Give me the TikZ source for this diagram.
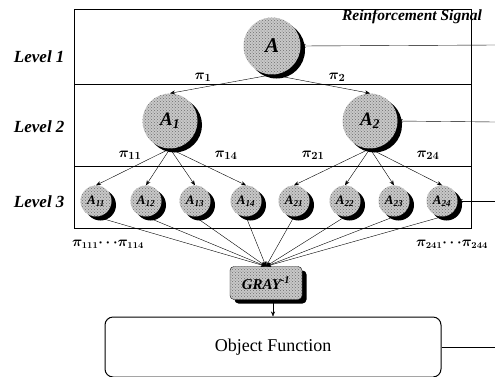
\documentclass[tikz,border=0pt]{standalone}
\usepackage{fontspec}
\setmainfont{Liberation Serif}
\usetikzlibrary{arrows.meta,positioning,patterns}
\definecolor{stipple}{RGB}{200,200,200}
\definecolor{speck}{RGB}{110,110,110}

\begin{document}
\begin{tikzpicture}[x=1pt,y=-1pt,>={Stealth[length=5pt,width=4pt]}]
\tikzstyle{shade}=[preaction={fill=black,transform canvas={shift={(4.5pt,-4pt)}}},fill=stipple,postaction={pattern=crosshatch dots,pattern color=speck}]
\tikzstyle{agent}=[circle,inner sep=0pt,shade]
\tikzstyle{topnode}=[agent,minimum size=57pt,font=\fontsize{21}{22}\selectfont\bfseries\itshape]
\tikzstyle{midnode}=[agent,minimum size=55pt,font=\fontsize{19}{20}\selectfont\bfseries\itshape]
\tikzstyle{leafnode}=[agent,minimum size=31pt,font=\fontsize{13}{14}\selectfont\bfseries\itshape]
\tikzstyle{lvl}=[anchor=east,font=\fontsize{17}{20}\selectfont\bfseries\itshape]
\tikzstyle{plabel}=[font=\fontsize{15}{17}\selectfont\boldmath]
\tikzstyle{link}=[->,thin]
\tikzstyle{fb}=[<-,thin]
\clip (0,0) rectangle (495,376);

\draw (74,9) rectangle (471,228);
\draw (74,84) -- (471,84);
\draw (74,166) -- (471,166);

\node[lvl] (l1) at (68,57) {Level 1};
\node[lvl] (l2) at (68,127) {Level 2};
\node[lvl] (l3) at (68,202) {Level 3};
\node[font=\fontsize{15.5}{17}\selectfont\bfseries\itshape] (rs) at (412,17) {Reinforcement Signal};

\node[topnode] (a) at (272,46) {A};
\node[midnode] (a1) at (170,121) {A\textsubscript{1}};
\node[midnode] (a2) at (370,121) {A\textsubscript{2}};

\node[leafnode] (a11) at (96,201) {A\textsubscript{11}};
\node[leafnode] (a12) at (146,201) {A\textsubscript{12}};
\node[leafnode] (a13) at (195,201) {A\textsubscript{13}};
\node[leafnode] (a14) at (246,201) {A\textsubscript{14}};
\node[leafnode] (a21) at (294,201) {A\textsubscript{21}};
\node[leafnode] (a22) at (345,201) {A\textsubscript{22}};
\node[leafnode] (a23) at (394,201) {A\textsubscript{23}};
\node[leafnode] (a24) at (442,201) {A\textsubscript{24}};

\node[draw=black,rounded corners=4pt,minimum width=72pt,minimum height=33pt,shade,
      font=\fontsize{15}{16}\selectfont\bfseries\itshape] (gray) at (266,283) {GRAY\textsuperscript{-1}};
\node[draw,line width=1pt,rounded corners=8pt,minimum width=336pt,minimum height=60pt,
      font=\fontsize{18}{20}\selectfont] (obj) at (273,347) {Object Function};

\draw[link] (a.south) -- (a1.north);
\draw[link] (a.south) -- (a2.north);
\node[plabel] (p1) at (203,77) {$\pi_1$};
\node[plabel] (p2) at (337,77) {$\pi_2$};

\draw[link] (a1.south) -- (a11.north);
\draw[link] (a1.south) -- (a12.north);
\draw[link] (a1.south) -- (a13.north);
\draw[link] (a1.south) -- (a14.north);
\draw[link] (a2.south) -- (a21.north);
\draw[link] (a2.south) -- (a22.north);
\draw[link] (a2.south) -- (a23.north);
\draw[link] (a2.south) -- (a24.north);
\node[plabel] (p11) at (130,155) {$\pi_{11}$};
\node[plabel] (p14) at (226,155) {$\pi_{14}$};
\node[plabel] (p21) at (313,155) {$\pi_{21}$};
\node[plabel] (p24) at (428,155) {$\pi_{24}$};

\draw[link] (a11.south) -- (gray.north);
\draw[link] (a12.south) -- (gray.north);
\draw[link] (a13.south) -- (gray.north);
\draw[link] (a14.south) -- (gray.north);
\draw[link] (a21.south) -- (gray.north);
\draw[link] (a22.south) -- (gray.north);
\draw[link] (a23.south) -- (gray.north);
\draw[link] (a24.south) -- (gray.north);
\node[plabel,font=\fontsize{13.5}{15}\selectfont\boldmath] (p111) at (108,244) {$\pi_{111}\!\cdots\!\pi_{114}$};
\node[plabel,font=\fontsize{13.5}{15}\selectfont\boldmath] (p241) at (452,244) {$\pi_{241}\!\cdots\!\pi_{244}$};

\draw[link] (gray.south -| obj.north) -- (obj.north);

\coordinate (sa) at (495,45);
\coordinate (sa2) at (495,122);
\coordinate (sa24) at (495,201);
\coordinate (sobj) at (495,347);
\draw[fb] (a.east) -- (sa);
\draw[fb] (a2.east) -- (sa2);
\draw[fb] (a24.east) -- (sa24);
\draw (obj.east) -- (sobj);
\end{tikzpicture}
\end{document}
